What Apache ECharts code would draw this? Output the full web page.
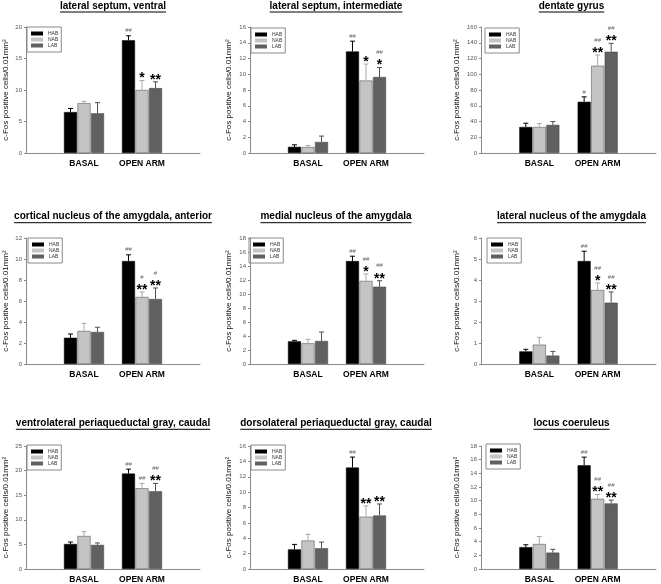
<!DOCTYPE html>
<html><head><meta charset="utf-8">
<script src="https://cdn.jsdelivr.net/npm/echarts@6/dist/echarts.min.js"></script>
<style>html,body{margin:0;padding:0;background:#fff}#c{width:661px;height:584px}</style>
</head><body><div id="c"></div>
<script>
// ---------- data ----------
const categories = ['BASAL', 'OPEN ARM'];
const groups = ['HAB', 'NAB', 'LAB'];
const titles = [
  'lateral septum, ventral',
  'lateral septum, intermediate',
  'dentate gyrus',
  'cortical nucleus of the amygdala, anterior',
  'medial nucleus of the amygdala',
  'lateral nucleus of the amygdala',
  'ventrolateral periaqueductal gray, caudal',
  'dorsolateral periaqueductal gray, caudal',
  'locus coeruleus'
];
const yAxisName = 'c-Fos positive cells/0.01mm\u00B2';
const yMax  = [20, 16, 160, 12, 18, 6, 25, 16, 18];
const yStep = [5, 2, 20, 2, 2, 1, 5, 2, 2];

// [BASAL, OPEN ARM] per panel
const habMean = [[6.5,17.9],[0.78,12.9],[33,65],[2.5,9.8],[3.24,14.7],[0.6,4.9],[5.08,19.4],[2.55,13.2],[3.2,15.17]];
const habErr  = [[0.57,0.7],[0.26,1.3],[4.8,6.3],[0.36,0.6],[0.14,0.7],[0.1,0.47],[0.4,0.9],[0.65,1.36],[0.35,1.2]];
const nabMean = [[7.9,10.0],[0.75,9.2],[33,110.8],[3.14,6.38],[2.95,11.86],[0.92,3.52],[6.7,16.4],[3.7,6.8],[3.65,10.27]];
const nabErr  = [[0.3,1.5],[0.2,2.1],[4.4,13.6],[0.73,0.48],[0.57,1.0],[0.35,0.34],[0.9,1.0],[0.8,1.4],[1.1,0.63]];
const labMean = [[6.3,10.3],[1.4,9.65],[35.7,128.6],[3.05,6.19],[3.29,11.05],[0.4,2.92],[4.9,15.8],[2.7,6.96],[2.4,9.6]];
const labErr  = [[1.7,1.0],[0.75,1.2],[4.3,10.6],[0.45,1.05],[1.28,0.85],[0.2,0.51],[0.4,1.6],[0.8,1.5],[0.48,0.48]];

// significance marks on OPEN ARM bars
const habHash = ['##','##','#','##','##','##','##','##','##'];
const habStar = ['','','','','','','','',''];
const nabHash = ['','','##','#','##','##','##','','##'];
const nabStar = ['*','*','**','**','*','*','','**','**'];
const labHash = ['','##','##','#','##','##','##','','##'];
const labStar = ['**','*','**','**','**','**','**','**','**'];

// ---------- styling / layout ----------
const FONT = "'Liberation Sans', Arial, sans-serif";
const barColors = ['#000000', '#c4c4c4', '#606060'];
const errColors = ['#000000', '#a8a8a8', '#505050'];
const colLeft = [26, 250, 481], colWidth = [174, 174, 175];
const rowTop = [27, 238, 446], rowHeight = [126, 126, 125];
const nameGaps = [16, 17, 20];
const legendPos = [[27,27],[251,28],[485,28],[28,238],[249,238],[487,238],[27,445],[251,445],[486,444]];
const titleX = [113, 336, 571.5];
const titleY = [6, 216.7, 423.3];

const means = [habMean, nabMean, labMean];
const errs = [habErr, nabErr, labErr];
const hashes = [habHash, nabHash, labHash];
const stars = [habStar, nabStar, labStar];

const BAR_W = 13, BAR_GAP = 0.04;
const xCats = [''].concat(categories, ['']);

const grid = [], xAxis = [], yAxis = [], series = [], legend = [], graphic = [];
const mctx = document.createElement('canvas').getContext('2d');
mctx.font = "bold 10px 'Liberation Sans', Arial, sans-serif";

for (let p = 0; p < 9; p++) {
  const r = Math.floor(p / 3), c = p % 3;
  grid.push({left: colLeft[c], top: rowTop[r], width: colWidth[c], height: rowHeight[r], containLabel: false});
  xAxis.push({
    gridIndex: p, type: 'category', data: xCats, boundaryGap: false,
    axisTick: {show: false},
    axisLine: {lineStyle: {color: '#8a8a8a', width: 1}},
    axisLabel: {interval: 0, fontSize: 8.5, fontWeight: 'bold', color: '#000', margin: 6, fontFamily: FONT}
  });
  yAxis.push({
    gridIndex: p, type: 'value', min: 0, max: yMax[p], interval: yStep[p],
    splitLine: {show: false},
    axisLine: {show: true, lineStyle: {color: '#8a8a8a', width: 1}},
    axisTick: {show: true, length: 2, lineStyle: {color: '#8a8a8a'}},
    axisLabel: {fontSize: 6, color: '#555', margin: 4, fontFamily: FONT},
    name: yAxisName, nameLocation: 'middle', nameGap: nameGaps[c], nameRotate: 90,
    nameTextStyle: {fontSize: 8, color: '#111', fontFamily: FONT}
  });
  legend.push({
    left: legendPos[p][0], top: legendPos[p][1], orient: 'vertical',
    data: groups, icon: 'rect', itemWidth: 12, itemHeight: 4, itemGap: 1,
    padding: [4, 3, 4, 4], borderColor: '#8a8a8a', borderWidth: 1,
    itemStyle: {borderWidth: 0},
    textStyle: {fontSize: 5, color: '#333', fontFamily: FONT, lineHeight: 5},
    selectedMode: false
  });
  for (let g = 0; g < 3; g++) {
    series.push({
      type: 'bar', name: groups[g], xAxisIndex: p, yAxisIndex: p,
      barWidth: BAR_W, barGap: (BAR_GAP * 100) + '%',
      itemStyle: {color: barColors[g], borderColor: g === 0 ? '#000' : '#444', borderWidth: 0.5},
      data: [null, means[g][p][0], means[g][p][1], null],
      animation: false
    });
  }
  for (let g = 0; g < 3; g++) {
    const offset = (g - 1) * BAR_W * (1 + BAR_GAP);
    const data = categories.map((cat, i) => [i + 1, means[g][p][i], errs[g][p][i]]);
    series.push({
      type: 'custom', name: groups[g] + ' error', xAxisIndex: p, yAxisIndex: p,
      clip: false, z: 5, animation: false,
      data: data,
      renderItem: function (params, api) {
        const xi = api.value(0), m = api.value(1), e = api.value(2);
        const b = api.coord([xi, m]);
        const t = api.coord([xi, m + e]);
        const cx = b[0] + offset;
        const children = [
          {type: 'line', shape: {x1: cx, y1: b[1], x2: cx, y2: t[1]}, style: {stroke: errColors[g], lineWidth: 1}},
          {type: 'line', shape: {x1: cx - 2.5, y1: t[1], x2: cx + 2.5, y2: t[1]}, style: {stroke: errColors[g], lineWidth: 1}}
        ];
        if (params.dataIndex === 1) {
          const st = stars[g][p], hs = hashes[g][p];
          if (st) {
            children.push({type: 'text', style: {text: st, x: cx, y: t[1] - 5 + 3, textAlign: 'center', textVerticalAlign: 'middle',
              font: "bold 14px 'Liberation Sans', Arial, sans-serif", fill: '#000'}});
          }
          if (hs) {
            children.push({type: 'text', style: {text: hs, x: cx, y: st ? t[1] - 15 : t[1] - 5, textAlign: 'center', textVerticalAlign: 'middle',
              font: "6px 'Liberation Sans', Arial, sans-serif", fill: '#666'}});
          }
        }
        return {type: 'group', children: children};
      }
    });
  }
  // title with underline
  const tx = titleX[c], ty = titleY[r];
  const tw = mctx.measureText(titles[p]).width;
  graphic.push({type: 'text', style: {text: titles[p], x: tx, y: ty, textAlign: 'center', textVerticalAlign: 'middle',
    font: "bold 10px 'Liberation Sans', Arial, sans-serif", fill: '#000'}});
  graphic.push({type: 'line', shape: {x1: tx - tw / 2, y1: ty + 6, x2: tx + tw / 2, y2: ty + 6}, style: {stroke: '#000', lineWidth: 1}});
}

const chart = echarts.init(document.getElementById('c'), null, {renderer: 'canvas'});
chart.setOption({
  backgroundColor: '#ffffff',
  animation: false,
  textStyle: {fontFamily: FONT},
  grid, xAxis, yAxis, legend, series, graphic
});
</script>
</body></html>
